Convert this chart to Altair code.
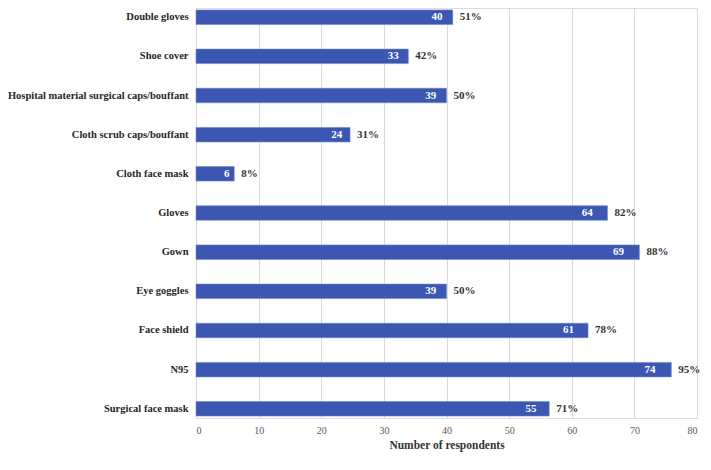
import altair as alt
import pandas as pd

categories = [
    "Double gloves",
    "Shoe cover",
    "Hospital material surgical caps/bouffant",
    "Cloth scrub caps/bouffant",
    "Cloth face mask",
    "Gloves",
    "Gown",
    "Eye goggles",
    "Face shield",
    "N95",
    "Surgical face mask",
]
bar_lengths = [41.0, 33.9, 40.0, 24.6, 6.1, 65.7, 70.8, 40.0, 62.6, 75.9, 56.4]
counts = [40, 33, 39, 24, 6, 64, 69, 39, 61, 74, 55]
percents = ["51%", "42%", "50%", "31%", "8%", "82%", "88%", "50%", "78%", "95%", "71%"]
x_ticks = [0, 10, 20, 30, 40, 50, 60, 70, 80]

df = pd.DataFrame({
    "item": categories,
    "bar": bar_lengths,
    "count": counts,
    "pct": percents,
})

FONT = "'Times New Roman', 'Liberation Serif', 'DejaVu Serif', serif"

y_enc = alt.Y(
    "item:N",
    sort=categories,
    title=None,
    scale=alt.Scale(paddingInner=0.63, paddingOuter=0.05),
    axis=alt.Axis(
        domain=False,
        ticks=False,
        grid=False,
        labelFont=FONT,
        labelFontWeight="bold",
        labelFontSize=10.5,
        labelColor="#262626",
        labelPadding=8,
        labelLimit=400,
    ),
)

x_enc = alt.X(
    "bar:Q",
    title="Number of respondents",
    scale=alt.Scale(domain=[0, 80], nice=False),
    axis=alt.Axis(
        values=x_ticks,
        domain=False,
        ticks=False,
        grid=True,
        gridColor="#d9d9d9",
        gridWidth=1,
        labelFont=FONT,
        labelFontSize=10,
        labelColor="#595959",
        labelPadding=7,
        titleFont=FONT,
        titleFontWeight="bold",
        titleFontSize=11.5,
        titleColor="#333333",
        titlePadding=4,
    ),
)

bars = alt.Chart(df).mark_bar(
    color="#3b57b1", stroke="#6b86cf", strokeWidth=0.6
).encode(x=x_enc, y=y_enc)

count_labels = alt.Chart(df).mark_text(
    align="right", baseline="middle", dx=-4, font=FONT, fontWeight="bold",
    fontSize=11, color="white"
).encode(x=alt.X("count:Q"), y=alt.Y("item:N", sort=categories), text="count:Q")

pct_labels = alt.Chart(df).mark_text(
    align="left", baseline="middle", dx=7, font=FONT, fontWeight="bold",
    fontSize=11, color="#333333"
).encode(x=alt.X("bar:Q"), y=alt.Y("item:N", sort=categories), text="pct:N")

chart = (
    alt.layer(bars, count_labels, pct_labels)
    .properties(
        width=501,
        height=410,
        autosize=alt.AutoSizeParams(type="none"),
        padding={"left": 188, "top": 0, "right": 4, "bottom": 34},
    )
    .configure_view(stroke=None)
    .configure(background="white")
)

chart.save("out.html", embed_options={"renderer": "svg", "actions": False})
